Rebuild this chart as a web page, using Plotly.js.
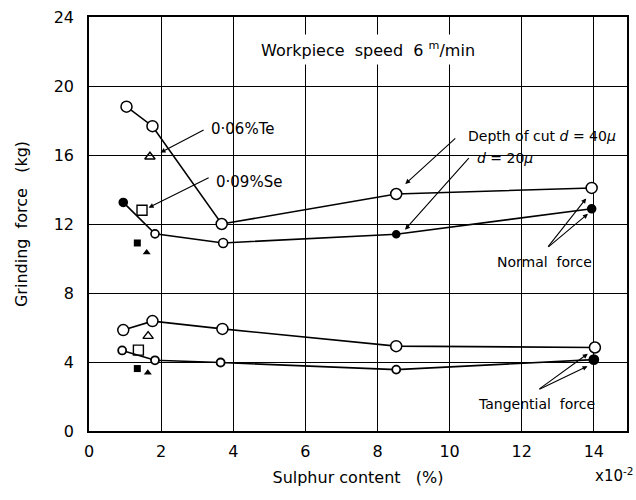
<!DOCTYPE html>
<html>
<head>
<meta charset="utf-8">
<script src="https://cdn.plot.ly/plotly-3.0.1.min.js"></script>
<style>html,body{margin:0;padding:0;background:#fff;}</style>
</head>
<body>
<div id="chart" style="width:636px;height:500px;"></div>
<script>
// Sulphur content (x10^-2 %)
const normal40X = [1.04, 1.76, 3.68, 8.52, 13.94];
const normal40Y = [18.8, 17.67, 12.0, 13.74, 14.09];
const normal20X = [0.95, 1.83, 3.72, 8.52, 13.94];
const normal20Y = [13.25, 11.43, 10.9, 11.41, 12.88];
const tang40X = [0.95, 1.76, 3.7, 8.52, 14.03];
const tang40Y = [5.85, 6.37, 5.92, 4.92, 4.84];
const tang20X = [0.92, 1.83, 3.65, 8.52, 14.0];
const tang20Y = [4.67, 4.1, 3.97, 3.56, 4.14];

// Te / Se additions
const te40X = [1.69, 1.64];
const te40Y = [15.9, 5.5];
const se40X = [1.47, 1.37];
const se40Y = [12.8, 4.69];
const se20X = [1.34, 1.34];
const se20Y = [10.9, 3.62];
const te20X = [1.6, 1.63];
const te20Y = [10.35, 3.37];

const xTicks = [0, 2, 4, 6, 8, 10, 12, 14];
const yTicks = [0, 4, 8, 12, 16, 20, 24];

const FONT = "DejaVu Sans, sans-serif";
const INK = "#000";

const traces = [
  {x: normal40X, y: normal40Y, mode: "lines+markers", line: {color: INK, width: 1.6},
   marker: {symbol: "circle", size: 11, color: "#fff", opacity: 1, line: {color: INK, width: 1.5}}},
  {x: normal20X, y: normal20Y, mode: "lines+markers", line: {color: INK, width: 1.6},
   marker: {symbol: "circle", size: [8, 8, 9, 7, 8], opacity: 1,
            color: [INK, "#fff", "#fff", INK, INK], line: {color: INK, width: 1.6}}},
  {x: tang40X, y: tang40Y, mode: "lines+markers", line: {color: INK, width: 1.6},
   marker: {symbol: "circle", size: 11, color: "#fff", opacity: 1, line: {color: INK, width: 1.5}}},
  {x: tang20X, y: tang20Y, mode: "lines+markers", line: {color: INK, width: 1.6},
   marker: {symbol: "circle", size: [8, 8, 8, 8, 9], opacity: 1,
            color: ["#fff", "#fff", "#fff", "#fff", INK], line: {color: INK, width: 1.8}}},
  {x: te40X, y: te40Y, mode: "markers",
   marker: {symbol: "triangle-up-open", size: 9, color: INK, line: {width: 1.4}}},
  {x: se40X, y: se40Y, mode: "markers",
   marker: {symbol: "square-open", size: 10, color: INK, line: {width: 1.4}}},
  {x: se20X, y: se20Y, mode: "markers",
   marker: {symbol: "square", size: 7, color: INK}},
  {x: te20X, y: te20Y, mode: "markers",
   marker: {symbol: "triangle-up", size: 7, color: INK}}
];

function arrow(tx, ty, hx, hy) {
  return {x: hx, y: hy, ax: tx, ay: ty, xref: "x", yref: "y", axref: "x", ayref: "y",
          text: "", showarrow: true, arrowhead: 2, arrowsize: 0.9, arrowwidth: 1.1,
          arrowcolor: INK, standoff: 3, startstandoff: 0};
}
function label(x, y, t, size) {
  return {x: x, y: y, xref: "x", yref: "y", text: t, showarrow: false,
          font: {family: FONT, size: size || 14, color: INK}};
}

const annotations = [
  {x: 7.75, y: 22.09, xref: "x", yref: "y", text: "Workpiece  speed  6 <sup>m</sup>/min",
   showarrow: false, bgcolor: "#fff", borderpad: 4,
   font: {family: FONT, size: 16, color: INK}},
  label(4.27, 17.5, "0·06%Te", 15),
  label(4.44, 14.43, "0·09%Se", 15),
  label(12.55, 17.1, "Depth of cut <i>d</i> = 40<i>μ</i>", 14),
  label(11.54, 15.85, "<i>d</i> = 20<i>μ</i>", 14),
  label(12.62, 9.8, "Normal  force", 14),
  label(12.41, 1.57, "Tangential  force", 14),
  arrow(3.22, 17.5, 1.91, 16.06),
  arrow(3.36, 14.72, 1.58, 12.87),
  arrow(10.2, 17.04, 8.71, 14.2),
  arrow(10.57, 15.9, 8.71, 11.54),
  arrow(12.7, 10.6, 13.84, 13.62),
  arrow(12.7, 10.6, 13.9, 12.7),
  arrow(12.45, 2.38, 13.9, 4.58),
  arrow(12.45, 2.38, 13.9, 3.83),
  {x: 0.975, y: -0.106, xref: "paper", yref: "paper", xanchor: "center", yanchor: "middle",
   text: "x10<sup>-2</sup>", showarrow: false, font: {family: FONT, size: 15, color: INK}}
];

const layout = {
  width: 636, height: 500,
  margin: {l: 89, r: 9, t: 17, b: 69},
  paper_bgcolor: "#fff", plot_bgcolor: "#fff",
  showlegend: false,
  font: {family: FONT, size: 16, color: INK},
  xaxis: {range: [0, 14.92], tickvals: xTicks, ticktext: xTicks.map(String),
          showgrid: true, gridcolor: INK, gridwidth: 1, zeroline: false,
          showline: true, mirror: true, linecolor: INK, linewidth: 1.8,
          ticks: "", ticklabelstandoff: 5, tickfont: {family: FONT, size: 16, color: INK},
          title: {text: "Sulphur content   (%)", standoff: 12, font: {family: FONT, size: 16, color: INK}}},
  yaxis: {range: [0, 24], tickvals: yTicks, ticktext: yTicks.map(String),
          showgrid: true, gridcolor: INK, gridwidth: 1, zeroline: false,
          showline: true, mirror: true, linecolor: INK, linewidth: 1.8,
          ticks: "", ticklabelstandoff: 10, tickfont: {family: FONT, size: 16, color: INK},
          title: {text: "Grinding  force   (kg)", standoff: 22, font: {family: FONT, size: 16, color: INK}}},
  annotations: annotations
};

Plotly.newPlot("chart", traces, layout, {displayModeBar: false, staticPlot: true});
</script>
</body>
</html>
